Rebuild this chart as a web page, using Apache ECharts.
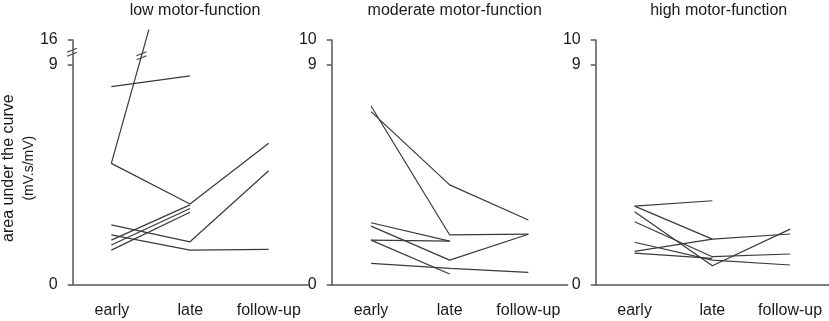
<!DOCTYPE html>
<html>
<head>
<meta charset="utf-8">
<title>area under the curve</title>
<script src="https://cdn.jsdelivr.net/npm/echarts@6/dist/echarts.min.js"></script>
<style>
    html, body { margin: 0; padding: 0; background: #fff; }
    #main { width: 829px; height: 321px; }
</style>
</head>
<body>
<div id="main"></div>
<script>
'use strict';

var categories = ['early', 'late', 'follow-up'];
var panelTitles = ['low motor-function', 'moderate motor-function', 'high motor-function'];

// tick values (real units); the low panel axis is broken between 9 and 16
var lowTicks = [0, 9, 16];
var otherTicks = [0, 9, 10];

// one row per subject: early, late, follow-up
var lowGroup = [
    [8.09, 8.53, null],
    [4.95, 61, null],      // runs off the top of the axis
    [4.95, 3.29, 5.77],
    [2.43, 1.74, 4.65],
    [2.02, 1.40, 1.43],
    [1.81, 3.25, null],
    [1.61, 3.10, null],
    [1.40, 2.95, null]
];
var moderateGroup = [
    [7.30, 2.02, 2.05],
    [7.07, 4.07, 2.63],
    [2.52, 1.77, null],
    [2.38, 0.99, 2.05],
    [1.81, 1.77, null],
    [1.81, 0.42, null],
    [0.86, 0.65, 0.49]
];
var highGroup = [
    [3.20, 3.42, null],
    [3.20, 1.85, null],
    [2.97, 0.76, 2.26],
    [2.56, 1.13, 1.24],
    [1.72, 0.99, 0.79],
    [1.35, 1.85, 2.06],
    [1.28, 1.06, null]
];

var panelLeft = [72, 331.7, 595.7];
var plotWidth = 236;
var plotTop = 40;
var plotHeight = 244.3;
var clipExtra = 10;       // the off-scale line is drawn a bit above the axis top
var FONT = 'Liberation Sans, Arial, sans-serif';
var INK = '#1a1a1a';
var AXIS = '#555';
var LINE = '#3a3a3a';

// low panel: 9..16 squeezed into 9..10
function brk(v) {
    if (v == null) return null;
    return v <= 9 ? v : 9 + (v - 9) / 7;
}
function ident(v) { return v; }

var panels = [
    { rows: lowGroup, ticks: lowTicks, map: brk },
    { rows: moderateGroup, ticks: otherTicks, map: ident },
    { rows: highGroup, ticks: otherTicks, map: ident }
];

var grid = [], xAxis = [], yAxis = [], series = [], title = [];

panels.forEach(function (p, i) {
    grid.push({ left: panelLeft[i], width: plotWidth, top: plotTop, height: plotHeight });
    title.push({
        text: panelTitles[i],
        left: panelLeft[i] + plotWidth / 2,
        textAlign: 'center',
        top: -2,
        textStyle: { fontFamily: FONT, fontSize: 16, fontWeight: 'normal', color: INK }
    });
    xAxis.push({
        type: 'category', gridIndex: i, data: categories, boundaryGap: true,
        axisLine: { lineStyle: { color: AXIS, width: 1.5 } },
        axisTick: { alignWithLabel: true, length: 5, lineStyle: { color: AXIS, width: 1.5 } },
        axisLabel: { interval: 0, fontFamily: FONT, fontSize: 16, color: INK, margin: 18 },
        splitLine: { show: false }
    });
    var shown = p.ticks.map(p.map);
    var y = {
        type: 'value', gridIndex: i, min: 0, max: 10,
        axisLine: { show: true, lineStyle: { color: AXIS, width: 1.5 } },
        axisTick: { show: true, length: 5, customValues: shown, lineStyle: { color: AXIS, width: 1.5 } },
        axisLabel: {
            fontFamily: FONT, fontSize: 16, color: INK, margin: 15,
            customValues: shown,
            formatter: function (v) { return String(p.ticks[shown.indexOf(v)]); }
        },
        splitLine: { show: false }
    };
    if (i === 0) {
        y.name = '{a|area under the curve}\n{b|(mV.s/mV)}';
        y.nameLocation = 'middle';
        y.nameGap = 28;
        y.nameTextStyle = {
            color: INK,
            padding: [0, 12, 0, 0],
            rich: {
                a: { fontFamily: FONT, fontSize: 16, color: INK, lineHeight: 20 },
                b: { fontFamily: FONT, fontSize: 14, color: INK, lineHeight: 20 }
            }
        };
    }
    yAxis.push(y);
});

// hidden grid over the low panel, a little taller, so the off-scale line is clipped above the axis
grid.push({ left: panelLeft[0], width: plotWidth, top: plotTop - clipExtra, height: plotHeight + clipExtra });
xAxis.push({ type: 'category', gridIndex: 3, data: categories, boundaryGap: true, show: false });
yAxis.push({ type: 'value', gridIndex: 3, min: 0, max: 10 * (plotHeight + clipExtra) / plotHeight, show: false });

panels.forEach(function (p, i) {
    var axisIdx = i === 0 ? 3 : i;
    p.rows.forEach(function (row) {
        series.push({
            type: 'line',
            xAxisIndex: axisIdx,
            yAxisIndex: axisIdx,
            data: row.map(p.map),
            symbol: 'none',
            connectNulls: false,
            silent: true,
            lineStyle: { color: LINE, width: 1.2 }
        });
    });
});

var chart = echarts.init(document.getElementById('main'));
chart.setOption({
    animation: false,
    backgroundColor: '#fff',
    title: title,
    grid: grid,
    xAxis: xAxis,
    yAxis: yAxis,
    series: series
});

// "//" break marks: on the low-panel axis and on the off-scale line
function breakMark(x, y) {
    var dx = 5, dy = 2, gap = 2;
    return {
        type: 'group', x: x, y: y, silent: true, z: 100,
        children: [
            { type: 'polygon', shape: { points: [[-dx, dy - gap], [dx, -dy - gap], [dx, -dy + gap], [-dx, dy + gap]] }, style: { fill: '#fff' } },
            { type: 'line', shape: { x1: -dx, y1: dy - gap, x2: dx, y2: -dy - gap }, style: { stroke: '#444', lineWidth: 1.2 } },
            { type: 'line', shape: { x1: -dx, y1: dy + gap, x2: dx, y2: -dy + gap }, style: { stroke: '#444', lineWidth: 1.2 } }
        ]
    };
}

var axisY = chart.convertToPixel({ yAxisIndex: 0 }, brk(12.5));
var off = lowGroup[1];
var p0 = chart.convertToPixel({ gridIndex: 3 }, [0, brk(off[0])]);
var p1 = chart.convertToPixel({ gridIndex: 3 }, [1, brk(off[1])]);
var yCut = chart.convertToPixel({ yAxisIndex: 0 }, brk(11.5));
var t = (yCut - p0[1]) / (p1[1] - p0[1]);

chart.setOption({
    graphic: [
        breakMark(panelLeft[0], axisY),
        breakMark(p0[0] + t * (p1[0] - p0[0]), yCut)
    ]
});
</script>
</body>
</html>
